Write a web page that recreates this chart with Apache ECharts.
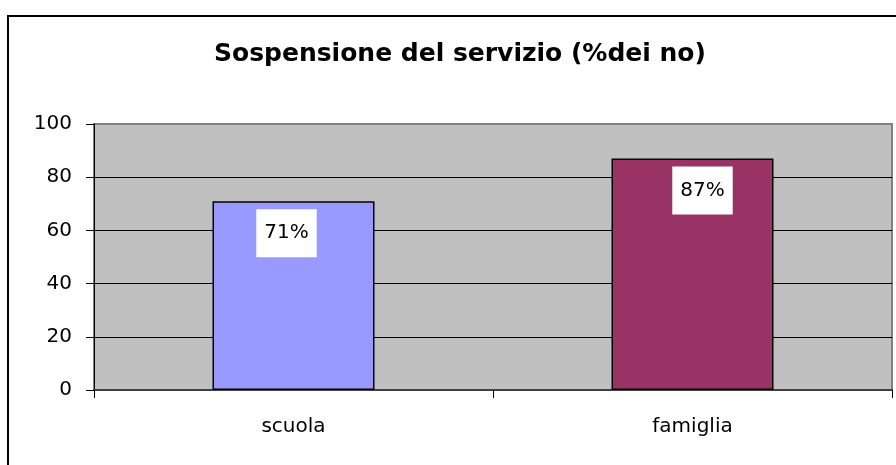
<!DOCTYPE html>
<html>
<head>
<meta charset="utf-8">
<script src="https://cdn.jsdelivr.net/npm/echarts@6/dist/echarts.min.js"></script>
<style>
  html, body { margin: 0; padding: 0; background: #fff; }
  #chart1 { width: 896px; height: 465px; }
</style>
</head>
<body>
<div id="chart1"></div>
<script>
// dati
const categorie = ['scuola', 'famiglia'];
const valori = [71, 87];
const yTicks = [0, 20, 40, 60, 80, 100];

const coloriBarre = ['#9999FF', '#993366'];
const offsetEtichette = [[-7, 0], [10, 0]];
const font = "'DejaVu Sans', Arial, sans-serif";

let chart1;

function initCharts() {
    chart1 = echarts.init(document.getElementById('chart1'));

    let option = {
        backgroundColor: '#fff',
        animation: false,
        title: {
            text: 'Sospensione del servizio (%dei no)',
            left: 209,
            top: 37,
            textStyle: {
                fontFamily: font,
                fontSize: 25,
                fontWeight: 'bold',
                color: '#000'
            }
        },
        graphic: [
            {
                type: 'rect',
                shape: { x: 8, y: 16, width: 900, height: 460 },
                style: { fill: 'none', stroke: '#000', lineWidth: 2 },
                silent: true
            }
        ],
        grid: {
            left: 94,
            right: 4,
            top: 124,
            bottom: 75,
            show: true,
            backgroundColor: '#C0C0C0',
            borderColor: '#808080',
            borderWidth: 2
        },
        xAxis: {
            type: 'category',
            data: categorie,
            axisLine: { show: true, lineStyle: { color: '#404040', width: 2 } },
            axisTick: { show: true, length: 8, lineStyle: { color: '#000' } },
            axisLabel: {
                margin: 27,
                fontFamily: font,
                fontSize: 20,
                color: '#000'
            },
            splitLine: { show: false }
        },
        yAxis: {
            type: 'value',
            min: yTicks[0],
            max: yTicks[yTicks.length - 1],
            interval: 20,
            axisLine: { show: true, lineStyle: { color: '#000', width: 1 } },
            axisTick: { show: true, length: 8, lineStyle: { color: '#000' } },
            axisLabel: {
                margin: 22,
                fontFamily: font,
                fontSize: 20,
                color: '#000'
            },
            splitLine: {
                show: true,
                lineStyle: {
                    color: ['#000', '#000', '#000', '#000', '#000', '#808080'],
                    width: 1
                }
            }
        },
        series: [
            {
                type: 'bar',
                barWidth: 162,
                data: valori.map((v, i) => ({
                    value: v,
                    itemStyle: { color: coloriBarre[i] },
                    label: { offset: offsetEtichette[i] }
                })),
                itemStyle: {
                    borderColor: '#000',
                    borderWidth: 1.5
                },
                label: {
                    show: true,
                    position: 'insideTop',
                    distance: 8,
                    formatter: '{c}%',
                    fontFamily: font,
                    fontSize: 20,
                    color: '#000',
                    backgroundColor: '#fff',
                    padding: [14, 8]
                }
            }
        ]
    };

    chart1.setOption(option);
}

document.addEventListener('DOMContentLoaded', function () {
    initCharts();
});
</script>
</body>
</html>
